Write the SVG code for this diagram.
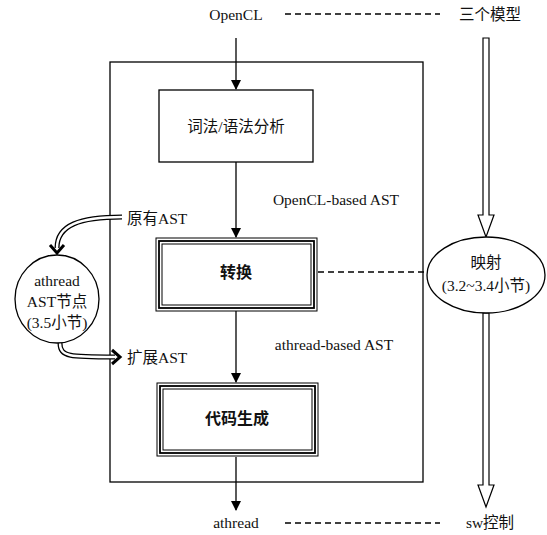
<svg xmlns="http://www.w3.org/2000/svg" width="547" height="535" viewBox="0 0 547 535">
<style>
text{font-family:"Liberation Serif","Noto Sans CJK SC",serif;font-size:15.5px;fill:#111;text-anchor:middle}
.b{font-weight:bold;font-size:16px}
.st{text-anchor:start}
.s{fill:none;stroke:#000;stroke-width:1.3}
.d{fill:none;stroke:#000;stroke-width:1.5;stroke-dasharray:6,4}
.dblo{fill:none;stroke:#000;stroke-width:5}
.dbli{fill:none;stroke:#fff;stroke-width:2.4}
</style>
<defs>
<marker id="ah" markerWidth="10" markerHeight="10" refX="9" refY="5" orient="auto" markerUnits="userSpaceOnUse">
<path d="M0,0 L10,5 L0,10 Z" fill="#000"/>
</marker>
</defs>
<rect x="110" y="62" width="313" height="420" class="s" fill="none"/>
<g id="connectors">
<line x1="236" y1="38" x2="236" y2="89" class="s" marker-end="url(#ah)"/>
<line x1="236" y1="162" x2="236" y2="237" class="s" marker-end="url(#ah)"/>
<line x1="236" y1="311" x2="236" y2="382" class="s" marker-end="url(#ah)"/>
<line x1="236" y1="457" x2="236" y2="510" class="s" marker-end="url(#ah)"/>
<line x1="285" y1="14" x2="440" y2="14" class="d"/>
<line x1="285" y1="523" x2="440" y2="523" class="d"/>
<line x1="318" y1="272" x2="427" y2="272" class="d"/>
<g fill="#fff" stroke="#000" stroke-width="1.2">
<path d="M483,38 L489,38 L489,215 L494,215 L486,237 L478,215 L483,215 Z"/>
<path d="M483,313 L489,313 L489,485 L494,485 L486,507 L478,485 L483,485 Z"/>
</g>
<path d="M122,217 C80,217 57,225 57,248" class="dblo"/>
<path d="M122,217 C80,217 57,225 57,248" class="dbli"/>
<path d="M50,245 L57,253 L64,245" fill="none" stroke="#000" stroke-width="3"/>
<path d="M60,343 C60,357 70,357 115,357" class="dblo"/>
<path d="M60,343 C60,357 70,357 115,357" class="dbli"/>
<path d="M112,350 L120,357 L112,364" fill="none" stroke="#000" stroke-width="3"/>
</g>
<g id="n-opencl"><text x="236" y="20">OpenCL</text></g>
<g id="n-models"><text x="490" y="20">三个模型</text></g>
<g id="n-athread-out"><text x="236" y="528">athread</text></g>
<g id="n-sw"><text x="490" y="528">sw控制</text></g>
<g id="n-parse">
<rect x="159" y="90" width="154" height="72" fill="#fff" stroke="#000" stroke-width="1.3"/>
<text x="236" y="132">词法/语法分析</text>
</g>
<g id="n-convert">
<rect x="156" y="238" width="161" height="73" fill="#fff" stroke="#000" stroke-width="1"/>
<rect x="159" y="241" width="155" height="67" fill="none" stroke="#000" stroke-width="1.8"/>
<rect x="162" y="244" width="149" height="61" fill="none" stroke="#000" stroke-width="1"/>
<text x="236" y="278" class="b">转换</text>
</g>
<g id="n-codegen">
<rect x="157" y="383" width="161" height="73" fill="#fff" stroke="#000" stroke-width="1"/>
<rect x="160" y="386" width="155" height="67" fill="none" stroke="#000" stroke-width="1.8"/>
<rect x="163" y="389" width="149" height="61" fill="none" stroke="#000" stroke-width="1"/>
<text x="237" y="424" class="b">代码生成</text>
</g>
<g id="n-mapping">
<ellipse cx="486" cy="275" rx="59" ry="38" fill="#fff" stroke="#000" stroke-width="1.3"/>
<text x="486" y="268">映射</text>
<text x="486" y="291">(3.2~3.4小节)</text>
</g>
<g id="n-astnode">
<ellipse cx="57" cy="299" rx="42" ry="44" fill="#fff" stroke="#000" stroke-width="1.3"/>
<text x="57" y="286">athread</text>
<text x="57" y="307">AST节点</text>
<text x="57" y="328">(3.5小节)</text>
</g>
<g id="labels">
<text x="336" y="205">OpenCL-based AST</text>
<text x="334" y="350">athread-based AST</text>
<text x="127" y="224" class="st">原有AST</text>
<text x="127" y="363" class="st">扩展AST</text>
</g>
</svg>
